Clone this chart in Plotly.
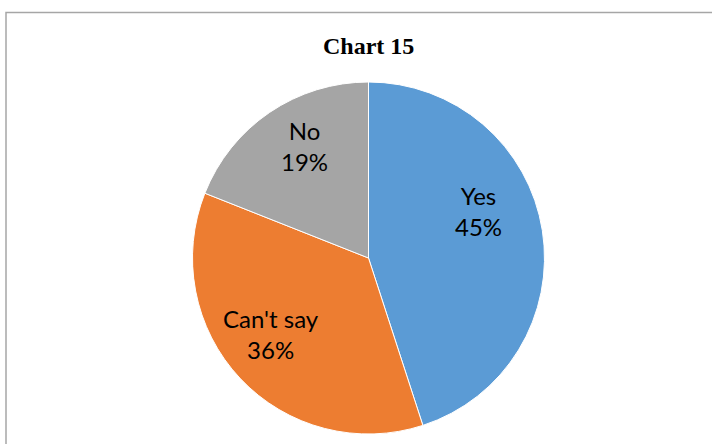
import plotly.graph_objects as go

# Survey responses
labels = ["Yes", "Can't say", "No"]
shares = [45, 36, 19]
colors = ["#5B9BD5", "#ED7D31", "#A5A5A5"]
title_text = "Chart 15"

W, H = 712, 444
cx, cy, r = 368.5, 258, 176

# Pixel anchors for the in-slice data labels (centre of each two-line label)
label_pos = {"Yes": (478, 211), "Can't say": (271, 334), "No": (304, 146)}

fig = go.Figure(
    go.Pie(
        labels=labels,
        values=shares,
        sort=False,
        direction="clockwise",
        rotation=0,
        marker=dict(colors=colors, line=dict(color="white", width=1)),
        textinfo="none",
        hoverinfo="label+percent",
        domain=dict(
            x=[(cx - r) / W, (cx + r) / W],
            y=[(H - cy - r) / H, (H - cy + r) / H],
        ),
        showlegend=False,
    )
)

total = sum(shares)
annotations = [
    dict(
        text="<b>%s</b>" % title_text,
        x=cx / W,
        y=1 - 46 / H,
        xref="paper",
        yref="paper",
        xanchor="center",
        yanchor="middle",
        showarrow=False,
        font=dict(family="Liberation Serif, Times New Roman, serif", size=24, color="black"),
    )
]
for lab, val in zip(labels, shares):
    px, py = label_pos[lab]
    annotations.append(
        dict(
            text="%s<br>%d%%" % (lab, round(100 * val / total)),
            x=px / W,
            y=1 - py / H,
            xref="paper",
            yref="paper",
            xanchor="center",
            yanchor="middle",
            showarrow=False,
            font=dict(family="Lato, Open Sans, sans-serif", size=24, color="black"),
        )
    )

fig.update_layout(
    width=W,
    height=H,
    margin=dict(l=0, r=0, t=0, b=0),
    paper_bgcolor="white",
    plot_bgcolor="white",
    annotations=annotations,
    shapes=[
        dict(
            type="rect",
            xref="paper",
            yref="paper",
            x0=6 / W,
            x1=1.01,
            y0=-0.01,
            y1=1 - 12.5 / H,
            line=dict(color="#A6A6A6", width=1.5),
            fillcolor="rgba(0,0,0,0)",
            layer="below",
        )
    ],
)

fig.write_html("out.html")
